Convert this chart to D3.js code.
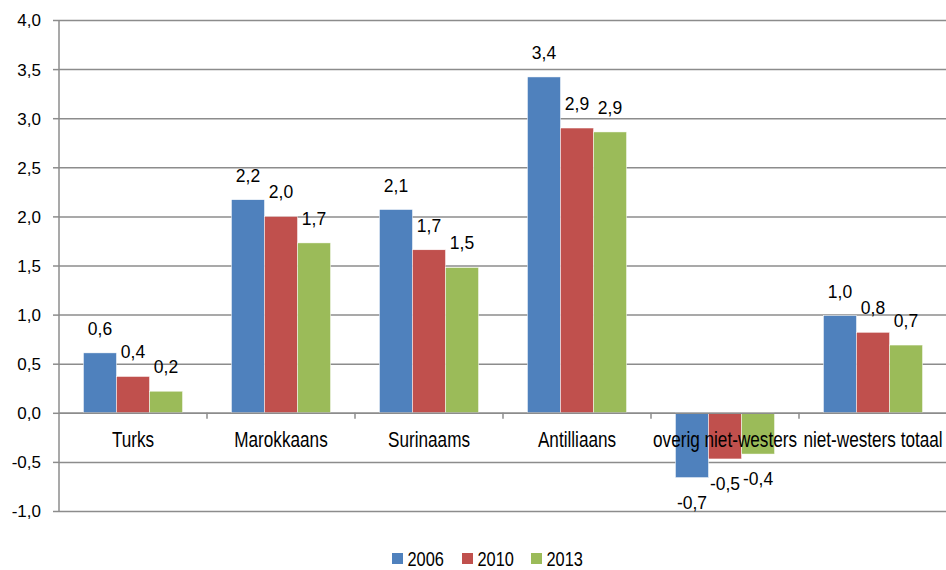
<!DOCTYPE html>
<html>
<head>
<meta charset="utf-8">
<script src="https://cdn.jsdelivr.net/npm/d3@7"></script>
<style>
  body { margin: 0; background: #fff; }
  text { font-family: "Liberation Sans", Arial, sans-serif; fill: #000; }
</style>
</head>
<body>
<div id="chart"></div>
<script>
// chart size
const width = 946;
const height = 570;
const margin_left = 59;
const margin_top = 20;
const plot_bottom = 511;

// data
const categories = ["Turks", "Marokkaans", "Surinaams", "Antilliaans", "overig niet-westers", "niet-westers totaal"];
const years = ["2006", "2010", "2013"];
const values2006 = [0.61, 2.17, 2.07, 3.42, -0.66, 0.99];
const values2010 = [0.37, 2.00, 1.66, 2.90, -0.47, 0.82];
const values2013 = [0.22, 1.73, 1.48, 2.86, -0.42, 0.69];
const yTicks = [-1, -0.5, 0, 0.5, 1, 1.5, 2, 2.5, 3, 3.5, 4];
const colors = ["#4F81BD", "#C0504D", "#9BBB59"];

const series = [values2006, values2010, values2013];
const dataset = [];
categories.forEach((c, i) => {
    years.forEach((y, j) => dataset.push({cat: c, year: y, value: series[j][i]}));
});

// dutch number format
const nl = d3.formatLocale({decimal: ",", thousands: ".", grouping: [3], currency: ["€", ""], minus: "-"});
const fmt = nl.format(".1f");

const svg = d3.select("#chart").append("svg").attr("width", width).attr("height", height);

const xScale = d3.scaleBand().domain(categories).range([margin_left, width + 1]);
const xInner = d3.scaleBand().domain(years).range([0, xScale.bandwidth()]).paddingOuter(0.74);
const yScale = d3.scaleLinear().domain([-1, 4]).range([plot_bottom, margin_top]);

// gridlines + y axis
const yAxis = d3.axisLeft(yScale).tickValues(yTicks).tickSize(6).tickFormat(fmt);
const gy = svg.append("g").attr("transform", `translate(${margin_left},0)`).call(yAxis);
gy.select(".domain").remove();
gy.selectAll(".tick line").attr("stroke", "#8c8c8c").attr("stroke-width", 1.5);
gy.selectAll(".tick text").attr("x", -18).attr("dy", "0.35em").style("font-size", "17px").attr("fill", "#000");
gy.selectAll(".tick").append("line")
    .attr("x1", 0).attr("x2", width - margin_left)
    .attr("stroke", "#8c8c8c").attr("stroke-width", 1.5);

svg.append("line").attr("x1", margin_left).attr("x2", margin_left)
    .attr("y1", margin_top).attr("y2", plot_bottom)
    .attr("stroke", "#8c8c8c").attr("stroke-width", 1.5);

// bars
svg.selectAll("rect.bar").data(dataset).enter()
    .append("rect")
    .attr("class", "bar")
    .attr("x", d => xScale(d.cat) + xInner(d.year))
    .attr("width", xInner.bandwidth())
    .attr("y", d => yScale(Math.max(0, d.value)))
    .attr("height", d => Math.abs(yScale(d.value) - yScale(0)))
    .attr("fill", d => colors[years.indexOf(d.year)])
    .attr("stroke", "#fff").attr("stroke-width", 0.5);

// value labels
svg.selectAll("text.val").data(dataset).enter()
    .append("text")
    .attr("class", "val")
    .attr("x", d => xScale(d.cat) + xInner(d.year) + xInner.bandwidth() / 2)
    .attr("y", d => d.value >= 0 ? yScale(d.value) - 18 : yScale(d.value) + 31)
    .attr("text-anchor", "middle")
    .style("font-size", "17.5px")
    .text(d => fmt(d.value));

// x axis at zero (labels are a narrow, taller face in the original)
const xAxis = d3.axisBottom(xScale).tickSize(0).tickFormat(d => d);
const gx = svg.append("g").attr("transform", `translate(0,${yScale(0)})`).call(xAxis);
gx.select(".domain").attr("stroke", "#8c8c8c").attr("stroke-width", 1.5);
gx.selectAll(".tick text").attr("y", 34).attr("dy", 0)
    .attr("transform", "scale(0.78,1)")
    .style("font-size", "22px").attr("fill", "#000");
svg.append("g").selectAll("line").data(categories.slice(1)).enter()
    .append("line")
    .attr("x1", d => xScale(d)).attr("x2", d => xScale(d))
    .attr("y1", yScale(0)).attr("y2", yScale(0) + 6)
    .attr("stroke", "#8c8c8c").attr("stroke-width", 1.5);

// legend
const legendX = [392, 462, 531];
const legend = svg.append("g").selectAll("g").data(years).enter()
    .append("g").attr("transform", (d, i) => `translate(${legendX[i]},553)`);
legend.append("rect").attr("width", 11).attr("height", 11).attr("fill", (d, i) => colors[i]);
legend.append("text").attr("y", 12.5)
    .attr("transform", "translate(15.5,0) scale(0.78,1)")
    .style("font-size", "21px").text(d => d);
</script>
</body>
</html>
